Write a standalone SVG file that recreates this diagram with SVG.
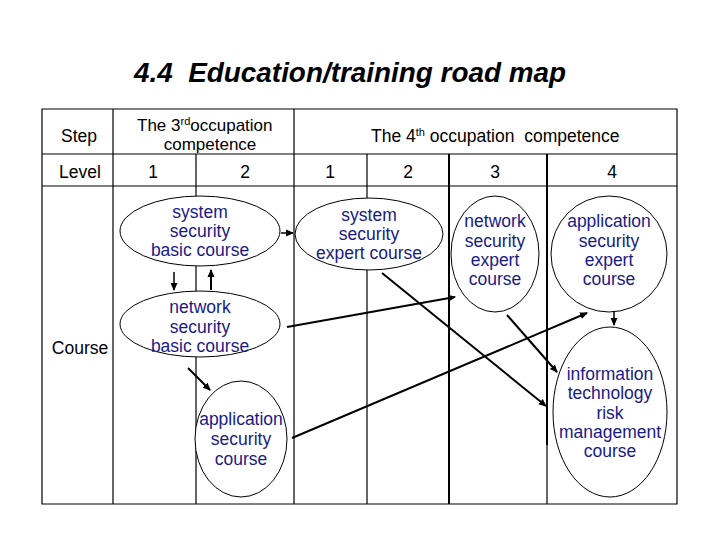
<svg xmlns="http://www.w3.org/2000/svg" width="720" height="540" viewBox="0 0 720 540">
<style>
.t{font-family:"Liberation Sans",Arial,sans-serif;font-size:17.5px;fill:#000}
.n{font-family:"Liberation Sans",Arial,sans-serif;font-size:17.5px;fill:#1a1a86;text-anchor:middle}
.g{stroke:#000;stroke-width:1.2;fill:none}
.gt{stroke:#000;stroke-width:2;fill:none}
.e{fill:#fff;stroke:#000;stroke-width:1}
.c{stroke:#000;stroke-width:2;fill:none;marker-end:url(#ah)}
</style>
<defs>
<marker id="ah" markerWidth="8" markerHeight="8" refX="7" refY="4" orient="auto" markerUnits="userSpaceOnUse">
<path d="M0,0.5 L8,4 L0,7.5 Z" fill="#000"/>
</marker>
</defs>
<rect width="720" height="540" fill="#fff"/>
<text x="134" y="82" textLength="432" lengthAdjust="spacingAndGlyphs" style="font-family:'Liberation Sans',Arial,sans-serif;font-size:27px;font-weight:bold;font-style:italic;white-space:pre" xml:space="preserve">4.4  Education/training road map</text>
<g id="grid">
<path class="g" d="M42,109 H677 V504 H42 Z"/>
<path class="g" d="M42,154 H677 M42,186 H677"/>
<path class="g" d="M113,109 V504 M294,109 V504 M196,154 V504 M367,154 V504"/>
<path class="gt" d="M449,154 V504 M547,154 V445"/>
<path class="g" d="M547,445 V504"/>
</g>
<g id="headers">
<text class="t" x="79" y="142" text-anchor="middle">Step</text>
<text class="t" x="137" y="131" style="font-size:17px">The 3<tspan font-size="11" dy="-6">rd</tspan><tspan dy="6">occupation</tspan></text>
<text class="t" x="210" y="150" text-anchor="middle" style="font-size:17px">competence</text>
<text class="t" x="371" y="142">The 4<tspan font-size="11" dy="-6">th</tspan><tspan dy="6" xml:space="preserve" style="white-space:pre"> occupation  competence</tspan></text>
<text class="t" x="80" y="178" text-anchor="middle">Level</text>
<text class="t" x="153" y="178" text-anchor="middle">1</text>
<text class="t" x="245" y="178" text-anchor="middle">2</text>
<text class="t" x="330" y="178" text-anchor="middle">1</text>
<text class="t" x="408" y="178" text-anchor="middle">2</text>
<text class="t" x="495" y="178" text-anchor="middle">3</text>
<text class="t" x="612" y="178" text-anchor="middle">4</text>
<text class="t" x="80" y="354" text-anchor="middle">Course</text>
</g>
<g id="sys-basic">
<ellipse class="e" cx="200" cy="231" rx="80" ry="35"/>
<text class="n" x="200" y="218">system</text>
<text class="n" x="200" y="237">security</text>
<text class="n" x="200" y="256">basic course</text>
</g>
<g id="net-basic">
<ellipse class="e" cx="200" cy="324" rx="80" ry="33"/>
<text class="n" x="200" y="313">network</text>
<text class="n" x="200" y="333">security</text>
<text class="n" x="200" y="352">basic course</text>
</g>
<g id="app-course">
<ellipse class="e" cx="241" cy="439" rx="46" ry="58"/>
<text class="n" x="241" y="425">application</text>
<text class="n" x="241" y="445">security</text>
<text class="n" x="241" y="465">course</text>
</g>
<g id="sys-expert">
<ellipse class="e" cx="369" cy="234" rx="74" ry="36"/>
<text class="n" x="369" y="221">system</text>
<text class="n" x="369" y="240">security</text>
<text class="n" x="369" y="259">expert course</text>
</g>
<g id="net-expert">
<ellipse class="e" cx="495" cy="254" rx="44" ry="58"/>
<text class="n" x="495" y="227">network</text>
<text class="n" x="495" y="247">security</text>
<text class="n" x="495" y="266">expert</text>
<text class="n" x="495" y="285">course</text>
</g>
<g id="app-expert">
<ellipse class="e" cx="609" cy="254" rx="58" ry="58"/>
<text class="n" x="609" y="227">application</text>
<text class="n" x="609" y="247">security</text>
<text class="n" x="609" y="266">expert</text>
<text class="n" x="609" y="285">course</text>
</g>
<g id="it-risk">
<ellipse class="e" cx="610" cy="412" rx="57" ry="85"/>
<text class="n" x="610" y="380">information</text>
<text class="n" x="610" y="399">technology</text>
<text class="n" x="610" y="419">risk</text>
<text class="n" x="610" y="438">management</text>
<text class="n" x="610" y="457">course</text>
</g>
<g id="connectors">
<path class="c" style="stroke-width:1.5" d="M281,233 H293"/>
<path class="c" style="stroke-width:1.5" d="M174,272 V290"/>
<path class="c" d="M211,290 V270"/>
<path class="c" d="M287,327 L455,297"/>
<path class="c" d="M188,368 L210,390"/>
<path class="c" d="M292,438 L587,313"/>
<path class="c" d="M382,273 L546,406"/>
<path class="c" d="M507,315 L557,372"/>
<path class="c" style="stroke-width:1.5" d="M614,311 V325"/>
</g>
</svg>
